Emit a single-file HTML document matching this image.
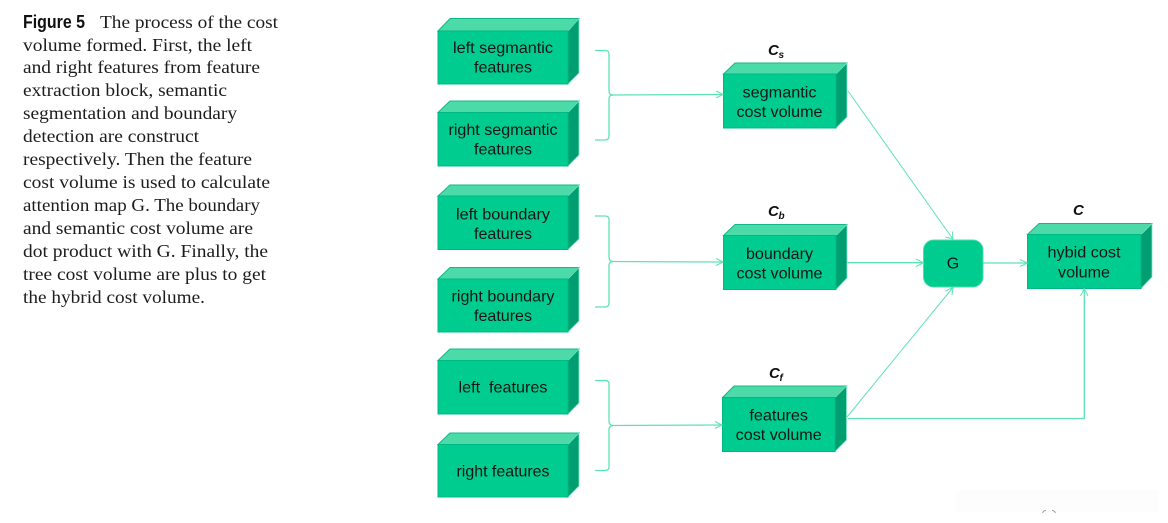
<!DOCTYPE html>
<html><head><meta charset="utf-8"><style>
html,body{margin:0;padding:0;background:#fff}
svg{display:block}
.c{font:18px "Liberation Serif",serif;fill:#1c1c1c}
.l{font:16px "Liberation Sans",sans-serif;fill:#151515;text-anchor:middle}
.h{font:italic bold 15px "Liberation Sans",sans-serif;fill:#111}
.s{font:italic bold 10px "Liberation Sans",sans-serif;fill:#111}
.f{fill:#00cc8f;stroke:#00b884;stroke-width:1}
.t{fill:#4cdaa8;stroke:#12b988;stroke-width:1}
.r{fill:#009e70;stroke:#7fe6c4;stroke-width:.8}
.w{fill:none;stroke:#5fe2b2;stroke-width:1.3}
.d{fill:none;stroke:#5fe2b2;stroke-width:1}
</style></head><body>
<svg width="1168" height="523" viewBox="0 0 1168 523" xmlns="http://www.w3.org/2000/svg">
<rect width="1168" height="523" fill="#fff"/>
<!-- caption -->
<text x="23" y="28" style="font:bold 18px 'Liberation Sans',sans-serif;fill:#111" textLength="62" lengthAdjust="spacingAndGlyphs">Figure 5</text>
<text class="c" x="100" y="28" textLength="178" lengthAdjust="spacingAndGlyphs">The process of the cost</text>
<text class="c" x="23" y="51" textLength="229" lengthAdjust="spacingAndGlyphs">volume formed. First, the left</text>
<text class="c" x="23" y="73.2" textLength="237" lengthAdjust="spacingAndGlyphs">and right features from feature</text>
<text class="c" x="23" y="96" textLength="204" lengthAdjust="spacingAndGlyphs">extraction block, semantic</text>
<text class="c" x="23" y="119" textLength="214" lengthAdjust="spacingAndGlyphs">segmentation and boundary</text>
<text class="c" x="23" y="142" textLength="176" lengthAdjust="spacingAndGlyphs">detection are construct</text>
<text class="c" x="23" y="165" textLength="229" lengthAdjust="spacingAndGlyphs">respectively. Then the feature</text>
<text class="c" x="23" y="188" textLength="247" lengthAdjust="spacingAndGlyphs">cost volume is used to calculate</text>
<text class="c" x="23" y="211" textLength="237" lengthAdjust="spacingAndGlyphs">attention map G. The boundary</text>
<text class="c" x="23" y="234" textLength="230" lengthAdjust="spacingAndGlyphs">and semantic cost volume are</text>
<text class="c" x="23" y="257" textLength="245" lengthAdjust="spacingAndGlyphs">dot product with G. Finally, the</text>
<text class="c" x="23" y="280" textLength="243" lengthAdjust="spacingAndGlyphs">tree cost volume are plus to get</text>
<text class="c" x="23" y="303" textLength="182" lengthAdjust="spacingAndGlyphs">the hybrid cost volume.</text>

<!-- left boxes -->
<g id="boxes">
<polygon class="t" points="438,31 450,18.5 579,18.5 568,31"/><polygon class="r" points="568,31 579,18.5 579,73 568,84"/><rect class="f" x="438" y="31" width="130" height="53"/>
<polygon class="t" points="438,112.5 450,101 579,101 568,112.5"/><polygon class="r" points="568,112.5 579,101 579,155 568,166"/><rect class="f" x="438" y="112.5" width="130" height="53.5"/>
<polygon class="t" points="438,196 450,185 579,185 568,196"/><polygon class="r" points="568,196 579,185 579,239 568,249.5"/><rect class="f" x="438" y="196" width="130" height="53.5"/>
<polygon class="t" points="438,279 450,267.5 579,267.5 568,279"/><polygon class="r" points="568,279 579,267.5 579,321 568,332"/><rect class="f" x="438" y="279" width="130" height="53"/>
<polygon class="t" points="438,360.5 450,349 579,349 568,360.5"/><polygon class="r" points="568,360.5 579,349 579,403 568,414"/><rect class="f" x="438" y="360.5" width="130" height="53.5"/>
<polygon class="t" points="438,444.5 450,433 579,433 568,444.5"/><polygon class="r" points="568,444.5 579,433 579,486 568,497"/><rect class="f" x="438" y="444.5" width="130" height="52.5"/>
<!-- cost boxes -->
<polygon class="t" points="723.5,74 735,63 847,63 836,74"/><polygon class="r" points="836,74 847,63 847,117 836,128"/><rect class="f" x="723.5" y="74" width="112.5" height="54"/>
<polygon class="t" points="723.5,235.5 735,224.5 847,224.5 836,235.5"/><polygon class="r" points="836,235.5 847,224.5 847,278 836,289.5"/><rect class="f" x="723.5" y="235.5" width="112.5" height="54"/>
<polygon class="t" points="722.5,397.5 734,386 846.5,386 835,397.5"/><polygon class="r" points="835,397.5 846.5,386 846.5,440 835,451.5"/><rect class="f" x="722.5" y="397.5" width="112.5" height="54"/>
<polygon class="t" points="1027.5,234.5 1039,223.5 1152,223.5 1141,234.5"/><polygon class="r" points="1141,234.5 1152,223.5 1152,277 1141,288.5"/><rect class="f" x="1027.5" y="234.5" width="113.5" height="54"/>
<rect x="923.5" y="240" width="59.5" height="47" rx="10" ry="10" fill="#00cc8f" stroke="#4fdcaa" stroke-width="1"/>
</g>

<!-- brackets -->
<path class="w" d="M595,50.5 H605 Q609,50.5 609,54 V91 Q609,95 613,95 Q609,95 609,99 V136 Q609,140 605,140 H595"/>
<path class="w" d="M595,216 H605 Q609,216 609,219.5 V257 Q609,261.5 613,261.5 Q609,261.5 609,266 V303 Q609,307 605,307 H595"/>
<path class="w" d="M595,380.5 H605 Q609,380.5 609,384 V421 Q609,425.5 613,425.5 Q609,425.5 609,430 V467 Q609,470.5 605,470.5 H595"/>

<!-- connectors -->
<path class="w" d="M612,95 L722.5,94.5"/><path class="d" d="M716,91 L723,94.5 L716,98"/>
<path class="w" d="M612,261.5 L722.5,262"/><path class="d" d="M716,258.5 L723,262 L716,265.5"/>
<path class="w" d="M612,425.5 L721.5,425"/><path class="d" d="M715,421.5 L722,425 L715,428.5"/>
<path class="d" d="M848,91 L952.5,238.5"/><path class="d" d="M952.5,231.5 L952.8,239 L945.5,237"/>
<path class="w" d="M847.5,262.7 L923,262.7"/><path class="d" d="M916,259 L923.5,262.7 L916,266.5"/>
<path class="w" d="M983.5,263 L1027,263"/><path class="d" d="M1020,259.5 L1027.5,263 L1020,266.5"/>
<path class="d" d="M847,417 L952.5,288"/><path class="d" d="M945.5,291 L953,287.5 L952,295"/>
<path class="w" d="M847.5,418.5 H1084.3 V289"/><path class="d" d="M1080.5,296 L1084.2,288.5 L1088,296"/>

<!-- labels -->
<text class="l" x="503" y="53" textLength="100" lengthAdjust="spacingAndGlyphs">left segmantic</text>
<text class="l" x="503" y="72.7" textLength="58" lengthAdjust="spacingAndGlyphs">features</text>
<text class="l" x="503" y="135" textLength="109" lengthAdjust="spacingAndGlyphs">right segmantic</text>
<text class="l" x="503" y="154.4" textLength="58" lengthAdjust="spacingAndGlyphs">features</text>
<text class="l" x="503" y="219.5" textLength="94" lengthAdjust="spacingAndGlyphs">left boundary</text>
<text class="l" x="503" y="239" textLength="58" lengthAdjust="spacingAndGlyphs">features</text>
<text class="l" x="503" y="301.5" textLength="103" lengthAdjust="spacingAndGlyphs">right boundary</text>
<text class="l" x="503" y="321" textLength="58" lengthAdjust="spacingAndGlyphs">features</text>
<text class="l" x="503" y="392.7" textLength="89" lengthAdjust="spacingAndGlyphs" xml:space="preserve">left  features</text>
<text class="l" x="503" y="476.7" textLength="93" lengthAdjust="spacingAndGlyphs">right features</text>
<text class="l" x="779.5" y="97.7" textLength="74" lengthAdjust="spacingAndGlyphs">segmantic</text>
<text class="l" x="779.5" y="117" textLength="86" lengthAdjust="spacingAndGlyphs">cost volume</text>
<text class="l" x="779.5" y="259" textLength="67" lengthAdjust="spacingAndGlyphs">boundary</text>
<text class="l" x="779.5" y="278.4" textLength="86" lengthAdjust="spacingAndGlyphs">cost volume</text>
<text class="l" x="778.7" y="420.7" textLength="58.7" lengthAdjust="spacingAndGlyphs">features</text>
<text class="l" x="778.7" y="440" textLength="86" lengthAdjust="spacingAndGlyphs">cost volume</text>
<text class="l" x="1084" y="257.7" textLength="73" lengthAdjust="spacingAndGlyphs">hybid cost</text>
<text class="l" x="1084" y="277.3" textLength="52" lengthAdjust="spacingAndGlyphs">volume</text>
<text class="l" x="953" y="268.7">G</text>

<text class="h" x="768" y="55">C</text><text class="s" x="778.5" y="58">s</text>
<text class="h" x="768" y="216">C</text><text class="s" x="778.5" y="219">b</text>
<text class="h" x="769" y="378">C</text><text class="s" x="779.5" y="381">f</text>
<text class="h" x="1073" y="215">C</text>

<!-- faint artifact -->
<rect x="955" y="490" width="203" height="22" fill="#fdfdfd"/>
<path d="M1042.5,513 Q1043.5,510.5 1046,510.5 M1052,510.5 Q1054.5,510.5 1055.5,513" fill="none" stroke="#999" stroke-width="1"/>
</svg>
</body></html>
